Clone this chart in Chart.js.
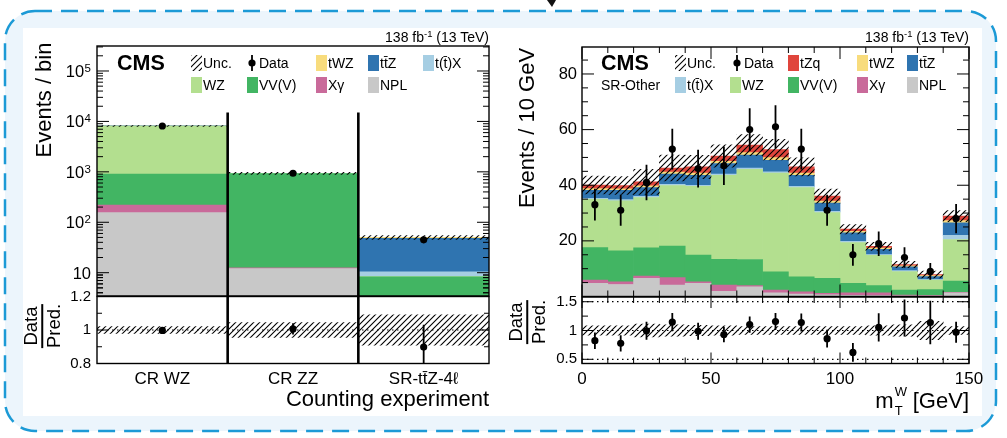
<!DOCTYPE html>
<html>
<head>
<meta charset="utf-8">
<title>Counting experiment and mT(W) in SR-Other</title>
<script src="https://cdn.jsdelivr.net/npm/chart.js@4.4.0/dist/chart.umd.min.js"></script>
<style>
  html, body { margin: 0; padding: 0; background: #fff; }
  #page { position: relative; width: 1007px; height: 438px; overflow: hidden;
          font-family: "Liberation Sans", Arial, Helvetica, sans-serif; color: #000; }
  #page canvas, #page svg { position: absolute; left: 0; top: 0; }
  .lbl { position: absolute; white-space: nowrap; }
  .lumi { font-size: 14px; line-height: 16px; top: 29px; }
  .lumi sup { font-size: 9.5px; vertical-align: 5px; line-height: 0; }
  .ytitle { font-size: 22px; line-height: 22px; transform: translate(-50%, -50%) rotate(-90deg); }
  .frac { font-size: 18.5px; line-height: 19px; text-align: center; transform: translate(-50%, -50%) rotate(-90deg); }
  .frac .bar { height: 1.5px; background: #000; margin: 1px 0; }
  .xtitle { font-size: 22px; line-height: 22px; top: 388px; }
  .mt { position: relative; display: inline-block; width: 13px; }
  .mt span { position: absolute; left: 1px; font-size: 13px; line-height: 13px; }
  .mt .sup { top: -23px; }
  .mt .sub { top: -4px; }
</style>
</head>
<body>
<div id="page">
  <svg width="1007" height="438">
    <rect x="5" y="11" width="991" height="420" rx="30" ry="30" fill="#ecf5fc"
          stroke="#1c9ad6" stroke-width="2.5" stroke-dasharray="17 9"/>
    <rect x="23" y="28" width="959" height="388" fill="#fff"/>
    <path d="M547 0 L556 0 L552 7 Z" fill="#111"/>
  </svg>
  <canvas id="regMain" width="1007" height="438"></canvas>
  <canvas id="regRatio" width="1007" height="438"></canvas>
  <canvas id="mtMain" width="1007" height="438"></canvas>
  <canvas id="mtRatio" width="1007" height="438"></canvas>

  <div class="lbl lumi" style="right:518px">138 fb<sup>-1</sup> (13 TeV)</div>
  <div class="lbl lumi" style="right:38px">138 fb<sup>-1</sup> (13 TeV)</div>
  <div class="lbl ytitle" style="left:44px; top:100px">Events / bin</div>
  <div class="lbl ytitle" style="left:527px; top:128px">Events / 10 GeV</div>
  <div class="lbl frac" style="left:42px; top:326px"><div>Data</div><div class="bar"></div><div>Pred.</div></div>
  <div class="lbl frac" style="left:527px; top:322px"><div>Data</div><div class="bar"></div><div>Pred.</div></div>
  <div class="lbl xtitle" style="right:518px">Counting experiment</div>
  <div class="lbl xtitle" style="right:38px; top:390px">m<span class="mt"><span class="sup">W</span><span class="sub">T</span></span> [GeV]</div>
</div>

<script>
// ---- counting experiment: one bin per region ----
const regions    = ['CR WZ', 'CR ZZ', 'SR-tt\u0304Z-4\u2113'];
const regNPL     = [155, 12, 0.3];
const regXgamma  = [65, 0.5, 0.2];
const regVV      = [680, 915, 7.8];
const regWZ      = [7200, 3, 0.1];
const regTX      = [18, 0.3, 2.0];
const regTTZ     = [20, 0.2, 37.5];
const regTWZ     = [3, 0.05, 2.2];
const regData    = [8120, 937, 45];
const regDataErr = [90, 31, 6.7];
const regUnc     = [0.02, 0.045, 0.09];
const regLogTicks   = [10, 100, 1000, 10000, 100000];
const regRatioTicks = [0.8, 1, 1.2];

// ---- mT(W) in SR-Other, 10 GeV bins ----
const mtBins    = [5, 15, 25, 35, 45, 55, 65, 75, 85, 95, 105, 115, 125, 135, 145];
const mtNPL     = [4.7, 4.3, 6.5, 4.1, 4.7, 1.9, 3.5, 1.3, 0.9, 0.6, 0.4, 0.3, 0.2, 0.2, 1.3];
const mtXgamma  = [1.2, 1.0, 0.8, 2.7, 0.6, 2.2, 0.4, 1.0, 0.8, 0.5, 0.9, 1.0, 0.3, 0.2, 0.2];
const mtVV      = [11.7, 11.1, 10.2, 11.3, 9.6, 9.3, 9.4, 6.6, 5.4, 5.4, 3.4, 2.6, 1.8, 2.1, 4.0];
const mtWZ      = [17.3, 18.0, 18.1, 21.8, 24.7, 30.2, 32.4, 35.5, 32.1, 23.7, 14.7, 10.9, 6.7, 3.4, 15.0];
const mtTX      = [0.4, 0.4, 0.4, 0.4, 0.4, 0.4, 0.5, 0.4, 0.4, 0.4, 0.4, 0.3, 0.3, 0.2, 1.5];
const mtTTZ     = [2.9, 3.4, 3.2, 3.7, 3.6, 3.8, 4.6, 4.2, 4.0, 3.0, 3.1, 1.9, 1.4, 1.1, 4.5];
const mtTWZ     = [0.6, 0.5, 0.6, 0.7, 0.8, 0.8, 0.9, 0.9, 0.8, 0.7, 0.5, 0.4, 0.3, 0.3, 0.8];
const mtTZQ     = [1.3, 1.2, 1.4, 1.5, 2.2, 1.9, 2.7, 2.9, 2.2, 1.8, 0.8, 0.6, 0.5, 0.4, 1.6];
const mtData    = [33, 31, 41, 53, 46, 47, 60, 61, 53, 31, 15, 19, 14, 9, 28];
const mtDataErr = [5.7, 5.6, 6.4, 7.3, 6.8, 6.9, 7.7, 7.8, 7.3, 5.6, 3.9, 4.4, 3.7, 3.0, 5.3];
const mtUnc     = [0.08, 0.08, 0.11, 0.10, 0.09, 0.08, 0.07, 0.07, 0.07, 0.07, 0.07, 0.08, 0.10, 0.16, 0.07];
const mtTicksX     = [0, 50, 100, 150];
const mtTicksY     = [20, 40, 60, 80];
const mtRatioTicks = [0.5, 1, 1.5];

const FONT = '"Liberation Sans", Arial, Helvetica, sans-serif';
const font = (px, w) => (w ? w + ' ' : '') + px + 'px ' + FONT;

Chart.defaults.font.family = FONT;
Chart.defaults.color = '#000';
Chart.defaults.animation = false;
Chart.defaults.plugins.legend.display = false;
Chart.defaults.plugins.tooltip.enabled = false;

const COL = {
  NPL: '#c8c8c8', Xg: '#c96a9a', VV: '#42b563', WZ: '#b3df8f',
  tX: '#a6cee3', ttZ: '#2f74b0', tWZ: '#f8dc7d', tZq: '#e0453c'
};

// slanted hatch used for the uncertainty bands
function makeHatch(canvas) {
  const tile = document.createElement('canvas');
  tile.width = 6; tile.height = 6;
  const g = tile.getContext('2d');
  g.strokeStyle = '#000'; g.lineWidth = 1.1;
  g.beginPath();
  g.moveTo(0, 6); g.lineTo(6, 0);
  g.moveTo(-1, 1); g.lineTo(1, -1);
  g.moveTo(5, 7); g.lineTo(7, 5);
  g.stroke();
  return canvas.getContext('2d').createPattern(tile, 'repeat');
}

// floating bars [lo, hi] for each process, stacked bottom to top
function stackDatasets(layers, xs, floor) {
  const base = xs.map(() => 0);
  return layers.map(([label, color, vals]) => ({
    label, backgroundColor: color, order: 2,
    data: vals.map((v, i) => {
      const lo = base[i];
      base[i] += v;
      return { x: xs[i], y: [Math.max(lo, floor), Math.max(base[i], floor)] };
    })
  }));
}
const sumLayers = layers => layers[0][2].map((_, i) => layers.reduce((s, l) => s + l[2][i], 0));

// frame, inward ticks, separators, legend, error bars
const framePlugin = {
  id: 'frame',
  beforeDatasetsDraw(chart, args, o) {
    if (!o.refLines) return;
    const { ctx, chartArea: a } = chart, ys = chart.scales.y;
    ctx.save();
    ctx.strokeStyle = '#000'; ctx.lineWidth = 1.2; ctx.setLineDash([1.5, 3.5]);
    o.refLines.forEach(v => {
      const y = ys.getPixelForValue(v);
      ctx.beginPath(); ctx.moveTo(a.left, y); ctx.lineTo(a.right, y); ctx.stroke();
    });
    ctx.restore();
  },
  afterDatasetsDraw(chart, args, o) {
    if (!o.errors) return;
    const { ctx, chartArea: a } = chart, ys = chart.scales.y;
    const ds = chart.data.datasets[o.errors.dataset];
    const meta = chart.getDatasetMeta(o.errors.dataset);
    ctx.save();
    ctx.beginPath(); ctx.rect(a.left, a.top, a.width, a.height); ctx.clip();
    ctx.strokeStyle = '#000'; ctx.lineWidth = 1.8;
    meta.data.forEach((pt, i) => {
      const raw = ds.data[i];
      const v = typeof raw === 'object' ? raw.y : raw;
      const e = o.errors.values[i];
      ctx.beginPath();
      ctx.moveTo(pt.x, ys.getPixelForValue(v - e));
      ctx.lineTo(pt.x, ys.getPixelForValue(v + e));
      ctx.stroke();
    });
    ctx.restore();
  },
  afterDraw(chart, args, o) {
    const { ctx, chartArea: a } = chart, xs = chart.scales.x, ys = chart.scales.y;
    ctx.save();
    ctx.strokeStyle = '#000';

    if (o.separators) {
      const top = o.sepTop ? ys.getPixelForValue(o.sepTop) : a.top;
      ctx.lineWidth = 2.6;
      ctx.beginPath();
      for (let i = 0; i < xs.getLabels().length - 1; i++) {
        const x = (xs.getPixelForValue(i) + xs.getPixelForValue(i + 1)) / 2;
        ctx.moveTo(x, top); ctx.lineTo(x, a.bottom);
      }
      ctx.stroke();
    }

    ctx.lineWidth = 1;
    ctx.beginPath();
    const yTicks = (vals, len) => (vals || []).forEach(v => {
      const p = ys.getPixelForValue(v);
      if (p < a.top - 0.5 || p > a.bottom + 0.5) return;
      ctx.moveTo(a.left, p); ctx.lineTo(a.left + len, p);
      ctx.moveTo(a.right, p); ctx.lineTo(a.right - len, p);
    });
    const xTicks = (vals, len) => (vals || []).forEach(v => {
      const p = xs.getPixelForValue(v);
      if (p < a.left - 0.5 || p > a.right + 0.5) return;
      ctx.moveTo(p, a.bottom); ctx.lineTo(p, a.bottom - len);
      ctx.moveTo(p, a.top); ctx.lineTo(p, a.top + len);
    });
    yTicks(o.yMajor, o.majorLen); yTicks(o.yMinor, o.minorLen);
    xTicks(o.xMajor, o.majorLen); xTicks(o.xMinor, o.minorLen);
    ctx.stroke();

    ctx.lineWidth = 1.4;
    ctx.strokeRect(a.left, a.top, a.width, a.height);

    ctx.fillStyle = '#000';
    if (o.logLabels) {
      ctx.textAlign = 'right'; ctx.textBaseline = 'alphabetic';
      o.logLabels.forEach(v => {
        const p = ys.getPixelForValue(v);
        const exp = Math.round(Math.log10(v));
        let x = a.left - 6;
        if (exp !== 1) {
          ctx.font = font(11.5);
          ctx.fillText(String(exp), x, p + 1);
          x -= ctx.measureText(String(exp)).width + 0.5;
        }
        ctx.font = font(16.5);
        ctx.fillText('10', x, p + 6);
      });
    }

    (o.labels || []).forEach(t => {
      ctx.font = t.font; ctx.textAlign = 'left'; ctx.textBaseline = 'alphabetic';
      ctx.fillText(t.text, t.x, t.y);
    });

    if (o.legend) {
      ctx.textAlign = 'left'; ctx.textBaseline = 'alphabetic';
      o.legend.forEach(it => {
        const ds = chart.data.datasets.find(d => d.label === it.label);
        if (it.kind === 'data') {
          ctx.fillStyle = '#000'; ctx.lineWidth = 1.8;
          ctx.beginPath(); ctx.moveTo(it.x + 5, it.y - 8); ctx.lineTo(it.x + 5, it.y + 8); ctx.stroke();
          ctx.beginPath(); ctx.arc(it.x + 5, it.y, 3.6, 0, Math.PI * 2); ctx.fill();
        } else {
          ctx.fillStyle = ds.backgroundColor;
          ctx.fillRect(it.x, it.y - 8, 11, 16);
        }
        ctx.fillStyle = '#000';
        ctx.font = font(14);
        ctx.fillText(it.label, it.x + 12, it.y + 5);
      });
    }
    ctx.restore();
  }
};

const barDefaults = { grouped: false, barPercentage: 1, categoryPercentage: 1, borderWidth: 0, clip: 0 };
const pointDefaults = { showLine: false, pointRadius: 3.6, pointBackgroundColor: '#000', pointBorderWidth: 0 };
const setTicks = vals => s => { s.ticks = vals.map(v => ({ value: v })); };

// ================= left: counting experiment =================
const regLayers = [
  ['NPL', COL.NPL, regNPL], ['X\u03b3', COL.Xg, regXgamma], ['VV(V)', COL.VV, regVV],
  ['WZ', COL.WZ, regWZ], ['t(t\u0304)X', COL.tX, regTX], ['tt\u0304Z', COL.ttZ, regTTZ],
  ['tWZ', COL.tWZ, regTWZ]
];
const regTotal = sumLayers(regLayers);
const regCanvas = document.getElementById('regMain');
const regHatch = makeHatch(regCanvas);

const logMinor = [];
for (let d = 1; d <= 100000; d *= 10) for (let k = 2; k <= 9; k++) logMinor.push(k * d);
logMinor.unshift(4, 5, 6, 7, 8, 9);

new Chart(regCanvas, {
  type: 'bar',
  data: {
    labels: regions,
    datasets: [
      { type: 'line', label: 'Data', data: regData, order: 0 },
      { label: 'Unc.', backgroundColor: regHatch, order: 1,
        data: regions.map((r, i) => ({ x: r, y: [regTotal[i] * (1 - regUnc[i]), regTotal[i] * (1 + regUnc[i])] })) },
      ...stackDatasets(regLayers, regions, 0.01)
    ]
  },
  options: {
    responsive: false,
    layout: { padding: { left: 97, right: 518, top: 46, bottom: 142 } },
    datasets: { bar: barDefaults, line: pointDefaults },
    scales: {
      x: { type: 'category', offset: true, display: false },
      y: { type: 'logarithmic', min: 3.45, max: 3.13e5, display: false }
    },
    plugins: {
      frame: {
        yMajor: regLogTicks, yMinor: logMinor, majorLen: 12, minorLen: 6,
        logLabels: regLogTicks, separators: true, sepTop: 1.5e4,
        errors: { dataset: 0, values: regDataErr },
        labels: [{ text: 'CMS', x: 117, y: 70, font: font(21.5, 'bold') }],
        legend: [
          { kind: 'hatch', label: 'Unc.', x: 191, y: 63 },
          { kind: 'data', label: 'Data', x: 247, y: 63 },
          { kind: 'box', label: 'tWZ', x: 316, y: 63 },
          { kind: 'box', label: 'tt\u0304Z', x: 368, y: 63 },
          { kind: 'box', label: 't(t\u0304)X', x: 423, y: 63 },
          { kind: 'box', label: 'WZ', x: 191, y: 85 },
          { kind: 'box', label: 'VV(V)', x: 247, y: 85 },
          { kind: 'box', label: 'X\u03b3', x: 316, y: 85 },
          { kind: 'box', label: 'NPL', x: 368, y: 85 }
        ]
      }
    }
  },
  plugins: [framePlugin]
});

const regRatioCanvas = document.getElementById('regRatio');
new Chart(regRatioCanvas, {
  type: 'bar',
  data: {
    labels: regions,
    datasets: [
      { type: 'line', label: 'Data', data: regData.map((d, i) => d / regTotal[i]), order: 0 },
      { label: 'Unc.', backgroundColor: makeHatch(regRatioCanvas), order: 1,
        data: regions.map((r, i) => ({ x: r, y: [1 - regUnc[i], 1 + regUnc[i]] })) }
    ]
  },
  options: {
    responsive: false,
    layout: { padding: { left: 57, right: 518, top: 296.5, bottom: 44.5 } },
    datasets: { bar: barDefaults, line: pointDefaults },
    scales: {
      x: { type: 'category', offset: true, grid: { display: false, drawTicks: false }, border: { display: false },
           ticks: { font: { size: 17 }, padding: 6, maxRotation: 0, autoSkip: false },
           afterFit: s => { s.height = 30; } },
      y: { min: 0.8, max: 1.2, grid: { display: false, drawTicks: false }, border: { display: false },
           afterBuildTicks: setTicks(regRatioTicks),
           ticks: { font: { size: 15 }, padding: 6, callback: v => String(v) },
           afterFit: s => { s.width = 40; } }
    },
    plugins: {
      frame: {
        yMajor: regRatioTicks, yMinor: [0.9, 1.1], majorLen: 10, minorLen: 5,
        refLines: [1], separators: true,
        errors: { dataset: 0, values: regDataErr.map((e, i) => e / regTotal[i]) }
      }
    }
  },
  plugins: [framePlugin]
});

// ================= right: mT(W) distribution =================
const mtLayers = [
  ['NPL', COL.NPL, mtNPL], ['X\u03b3', COL.Xg, mtXgamma], ['VV(V)', COL.VV, mtVV],
  ['WZ', COL.WZ, mtWZ], ['t(t\u0304)X', COL.tX, mtTX], ['tt\u0304Z', COL.ttZ, mtTTZ],
  ['tWZ', COL.tWZ, mtTWZ], ['tZq', COL.tZq, mtTZQ]
];
const mtTotal = sumLayers(mtLayers);
const mtCanvas = document.getElementById('mtMain');
const mtMinorX = [10, 20, 30, 40, 60, 70, 80, 90, 110, 120, 130, 140];

new Chart(mtCanvas, {
  type: 'bar',
  data: {
    datasets: [
      { type: 'line', label: 'Data', data: mtData.map((v, i) => ({ x: mtBins[i], y: v })), order: 0 },
      { label: 'Unc.', backgroundColor: makeHatch(mtCanvas), order: 1,
        data: mtBins.map((b, i) => ({ x: b, y: [mtTotal[i] * (1 - mtUnc[i]), mtTotal[i] * (1 + mtUnc[i])] })) },
      ...stackDatasets(mtLayers, mtBins, 0)
    ]
  },
  options: {
    responsive: false,
    layout: { padding: { left: 542, right: 38, top: 47, bottom: 141.5 } },
    datasets: { bar: barDefaults, line: pointDefaults },
    scales: {
      x: { type: 'linear', min: 0, max: 150, offset: false, display: false },
      y: { min: 0, max: 89.7, grid: { display: false, drawTicks: false }, border: { display: false },
           afterBuildTicks: setTicks(mtTicksY),
           ticks: { font: { size: 16.5 }, padding: 5 },
           afterFit: s => { s.width = 40; } }
    },
    plugins: {
      frame: {
        yMajor: [0, ...mtTicksY], yMinor: [5, 10, 15, 25, 30, 35, 45, 50, 55, 65, 70, 75, 85],
        xMajor: mtTicksX, xMinor: mtMinorX, majorLen: 12, minorLen: 6,
        errors: { dataset: 0, values: mtDataErr },
        labels: [
          { text: 'CMS', x: 601, y: 70, font: font(21.5, 'bold') },
          { text: 'SR-Other', x: 601, y: 90, font: font(14) }
        ],
        legend: [
          { kind: 'hatch', label: 'Unc.', x: 675, y: 63 },
          { kind: 'data', label: 'Data', x: 732, y: 63 },
          { kind: 'box', label: 'tZq', x: 788, y: 63 },
          { kind: 'box', label: 'tWZ', x: 857, y: 63 },
          { kind: 'box', label: 'tt\u0304Z', x: 907, y: 63 },
          { kind: 'box', label: 't(t\u0304)X', x: 675, y: 85 },
          { kind: 'box', label: 'WZ', x: 730, y: 85 },
          { kind: 'box', label: 'VV(V)', x: 788, y: 85 },
          { kind: 'box', label: 'X\u03b3', x: 857, y: 85 },
          { kind: 'box', label: 'NPL', x: 907, y: 85 }
        ]
      }
    }
  },
  plugins: [framePlugin]
});

const mtRatioCanvas = document.getElementById('mtRatio');
new Chart(mtRatioCanvas, {
  type: 'bar',
  data: {
    datasets: [
      { type: 'line', label: 'Data', data: mtData.map((d, i) => ({ x: mtBins[i], y: d / mtTotal[i] })), order: 0 },
      { label: 'Unc.', backgroundColor: makeHatch(mtRatioCanvas), order: 1,
        data: mtBins.map((b, i) => ({ x: b, y: [1 - mtUnc[i], 1 + mtUnc[i]] })) }
    ]
  },
  options: {
    responsive: false,
    layout: { padding: { left: 542, right: 38, top: 297, bottom: 44.5 } },
    datasets: { bar: barDefaults, line: pointDefaults },
    scales: {
      x: { type: 'linear', min: 0, max: 150, offset: false,
           grid: { display: false, drawTicks: false }, border: { display: false },
           afterBuildTicks: setTicks(mtTicksX),
           ticks: { font: { size: 17 }, padding: 6, maxRotation: 0 },
           afterFit: s => { s.height = 30; } },
      y: { min: 0.427, max: 1.582, grid: { display: false, drawTicks: false }, border: { display: false },
           afterBuildTicks: setTicks(mtRatioTicks),
           ticks: { font: { size: 15 }, padding: 5, callback: v => String(v) },
           afterFit: s => { s.width = 40; } }
    },
    plugins: {
      frame: {
        yMajor: mtRatioTicks, yMinor: [0.75, 1.25], xMajor: mtTicksX, xMinor: mtMinorX,
        majorLen: 11, minorLen: 6, refLines: [0.5, 1, 1.5],
        errors: { dataset: 0, values: mtDataErr.map((e, i) => e / mtTotal[i]) }
      }
    }
  },
  plugins: [framePlugin]
});
</script>
</body>
</html>
